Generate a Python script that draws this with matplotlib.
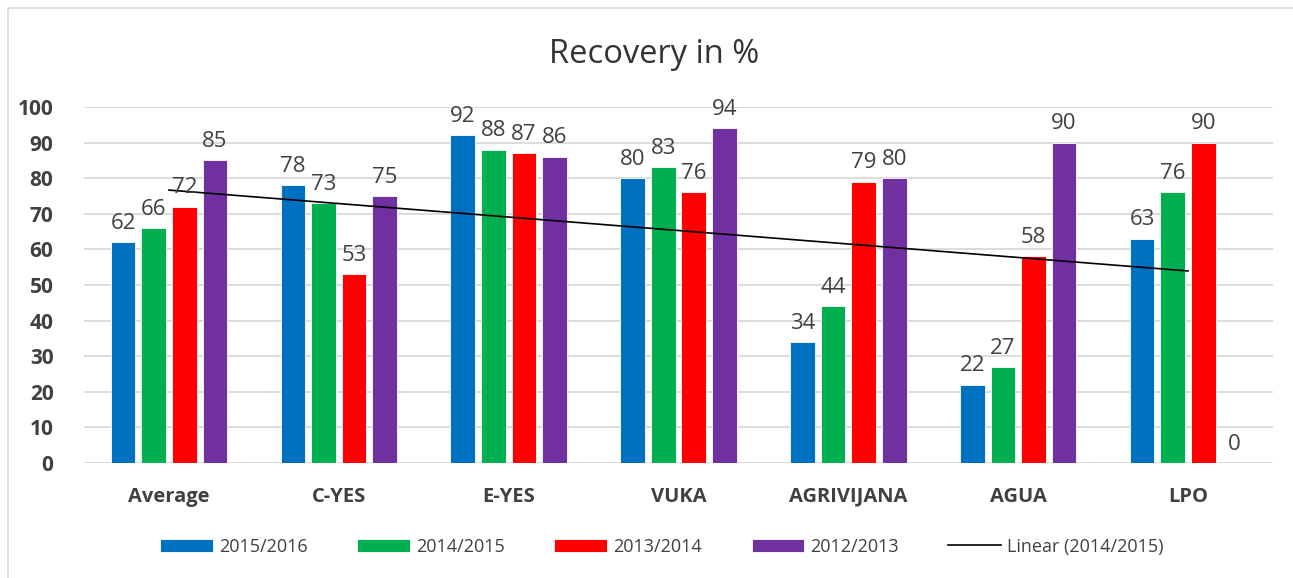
import matplotlib.pyplot as plt
from matplotlib.patches import Rectangle
import numpy as np

plt.rcParams["font.family"] = ["Open Sans", "DejaVu Sans"]

categories = ["Average", "C-YES", "E-YES", "VUKA", "AGRIVIJANA", "AGUA", "LPO"]
series_names = ["2015/2016", "2014/2015", "2013/2014", "2012/2013"]
v_2015_16 = [62, 78, 92, 80, 34, 22, 63]
v_2014_15 = [66, 73, 88, 83, 44, 27, 76]
v_2013_14 = [72, 53, 87, 76, 79, 58, 90]
v_2012_13 = [85, 75, 86, 94, 80, 90, 0]
series_values = [v_2015_16, v_2014_15, v_2013_14, v_2012_13]
colors = ["#0070C0", "#00B050", "#FF0000", "#7030A0"]
text_col = "#404040"

fig = plt.figure(figsize=(12.93, 5.78), dpi=100)
ax = fig.add_axes([0.065, 0.199, 0.9195, 0.616])

# chart frame
fig.patches.append(Rectangle((8 / 1293, -0.1), 1.2, 1 - 8 / 578 + 0.1,
                             transform=fig.transFigure, fill=False,
                             edgecolor="#d9d9d9", lw=1.2))

x = np.arange(len(categories))
width = 0.145
step = 0.18
for k, (name, vals, col) in enumerate(zip(series_names, series_values, colors)):
    pos = x + (k - 1.5) * step
    ax.bar(pos, vals, width, color=col, label=name, zorder=3,
           edgecolor="white", linewidth=0.6)
    for px, v in zip(pos, vals):
        ax.annotate(str(v), (px, v), xytext=(0, 6), textcoords="offset points",
                    ha="center", va="bottom", fontsize=16, color=text_col,
                    clip_on=False, zorder=5)

# linear trendline of 2014/2015
coef = np.polyfit(x, v_2014_15, 1)
ax.plot(x, np.polyval(coef, x), color="black", lw=1.2, zorder=4,
        label="Linear (2014/2015)")

ax.set_xlim(-0.5, len(categories) - 0.5)
ax.set_ylim(0, 100)
ax.set_yticks(range(0, 101, 10))
ax.grid(axis="y", color="#d9d9d9", lw=1.3, zorder=0)
ax.set_axisbelow(True)
for s in ax.spines.values():
    s.set_visible(False)
ax.tick_params(length=0)
ax.tick_params(axis="y", pad=22, labelsize=15, labelcolor=text_col)
ax.tick_params(axis="x", pad=17, labelsize=14.5, labelcolor=text_col)
ax.set_xticks(x)
ax.set_xticklabels(categories, fontweight="bold")
for t in ax.get_yticklabels():
    t.set_fontweight("bold")

fig.text(0.506, 0.905, "Recovery in %", ha="center", va="center",
         fontsize=23.5, color="#333333")

handles, labels = ax.get_legend_handles_labels()
order = [1, 2, 3, 4, 0]
fig.legend([handles[i] for i in order], [labels[i] for i in order],
           loc="center", bbox_to_anchor=(0.512, 0.054), ncol=5, frameon=False,
           fontsize=13, handlelength=2.9, handleheight=0.7, handletextpad=0.35,
           columnspacing=2.75, labelcolor=text_col)

fig.savefig("out.png", dpi=100)
